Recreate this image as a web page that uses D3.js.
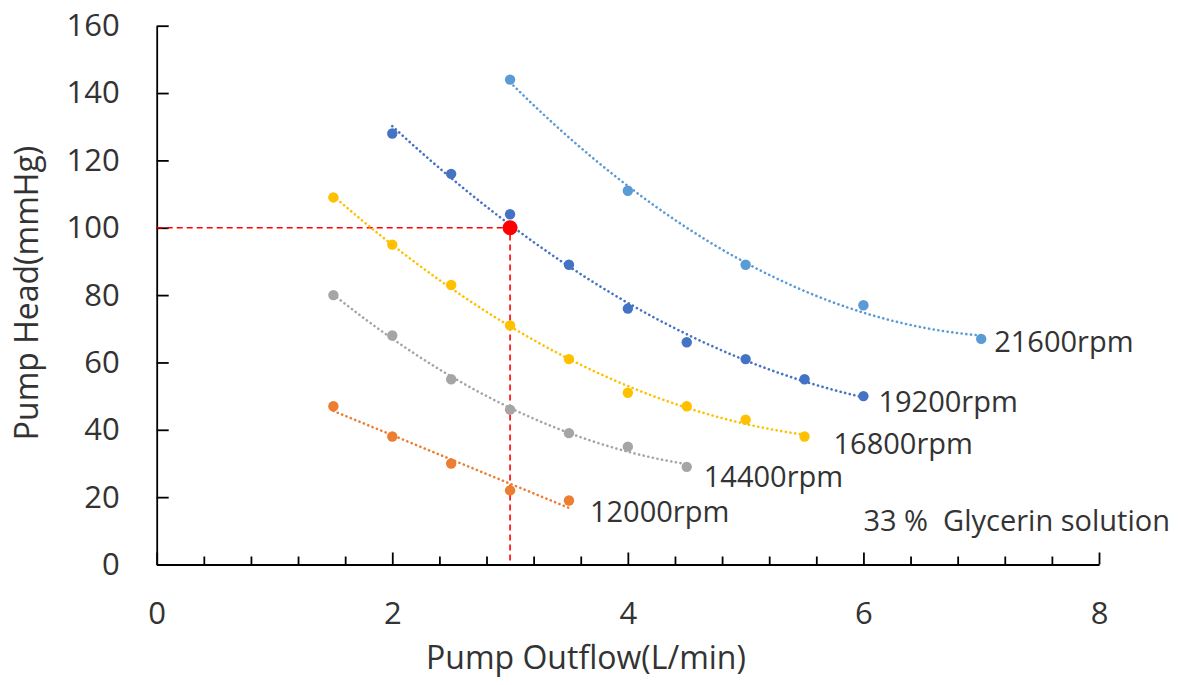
<!DOCTYPE html>
<html lang="en">
<head>
  <meta charset="UTF-8">
  <title>Pump Head vs Pump Outflow</title>
  <script src="https://cdn.jsdelivr.net/npm/d3@7"></script>
  <style>
    body { margin: 0; background: #fff; font-family: "Open Sans", sans-serif; }
    .axis text { font-size: 31px; fill: #333; font-family: "Open Sans", sans-serif; }
    .axis path, .axis line { stroke: #000; stroke-width: 1.8px; }
    .axis-label { font-size: 32px; fill: #333; text-anchor: middle; }
    .series-label { font-size: 29px; fill: #333; }
    .note { font-size: 29px; fill: #333; white-space: pre; }
  </style>
</head>
<body>
  <script>
    // values
    const flow12000 = [1.5, 2, 2.5, 3, 3.5];
    const head12000 = [47, 38, 30, 22, 19];
    const flow14400 = [1.5, 2, 2.5, 3, 3.5, 4, 4.5];
    const head14400 = [80, 68, 55, 46, 39, 35, 29];
    const flow16800 = [1.5, 2, 2.5, 3, 3.5, 4, 4.5, 5, 5.5];
    const head16800 = [109, 95, 83, 71, 61, 51, 47, 43, 38];
    const flow19200 = [2, 2.5, 3, 3.5, 4, 4.5, 5, 5.5, 6];
    const head19200 = [128, 116, 104, 89, 76, 66, 61, 55, 50];
    const flow21600 = [3, 4, 5, 6, 7];
    const head21600 = [144, 111, 89, 77, 67];

    const speedLabels = ["12000rpm", "14400rpm", "16800rpm", "19200rpm", "21600rpm"];
    const trendOrder = [1, 2, 2, 2, 2];
    const operatingPoint = {flow: 3, head: 100};
    const xTicks = [0, 2, 4, 6, 8];
    const yTicks = [0, 20, 40, 60, 80, 100, 120, 140, 160];
    const noteText = "33 %  Glycerin solution";

    const colors = ["#ED7D31", "#A5A5A5", "#FFC000", "#4472C4", "#5B9BD5"];
    // pixel offsets of each end label from the series' last point
    const labelOffsets = [[21, 21], [17, 20], [29, 17], [15, 16], [13, 13]];

    const series = [
      {flow: flow12000, head: head12000},
      {flow: flow14400, head: head14400},
      {flow: flow16800, head: head16800},
      {flow: flow19200, head: head19200},
      {flow: flow21600, head: head21600}
    ].map((s, i) => ({
      name: speedLabels[i],
      color: colors[i],
      order: trendOrder[i],
      offset: labelOffsets[i],
      points: s.flow.map((f, j) => ({flow: f, head: s.head[j]}))
    }));

    const W = 1181, H = 685;
    const margin = {top: 25.7, right: 82, bottom: 120.5, left: 156.7};
    const width = W - margin.left - margin.right,
          height = H - margin.top - margin.bottom;

    const svg = d3.select("body").append("svg")
      .attr("width", W)
      .attr("height", H)
      .append("g")
      .attr("transform", `translate(${margin.left},${margin.top})`);

    const x = d3.scaleLinear().domain([0, 8]).range([0, width]);
    const y = d3.scaleLinear().domain([0, 160]).range([height, 0]);

    // least-squares polynomial trendline (order 1 or 2), like the spreadsheet one
    function polyFit(pts, order) {
      const n = order + 1;
      const A = d3.range(n).map(r => d3.range(n + 1).map(c => 0));
      pts.forEach(p => {
        for (let r = 0; r < n; r++) {
          for (let c = 0; c < n; c++) A[r][c] += Math.pow(p.flow, r + c);
          A[r][n] += p.head * Math.pow(p.flow, r);
        }
      });
      for (let c = 0; c < n; c++) {
        for (let r = c + 1; r < n; r++) {
          const f = A[r][c] / A[c][c];
          for (let k = c; k <= n; k++) A[r][k] -= f * A[c][k];
        }
      }
      const b = new Array(n).fill(0);
      for (let r = n - 1; r >= 0; r--) {
        let v = A[r][n];
        for (let k = r + 1; k < n; k++) v -= A[r][k] * b[k];
        b[r] = v / A[r][r];
      }
      return f => b.reduce((acc, coef, k) => acc + coef * Math.pow(f, k), 0);
    }

    // axes
    svg.append("g")
      .attr("class", "axis")
      .call(d3.axisLeft(y).tickValues(yTicks).tickSizeInner(-12).tickSizeOuter(0).tickPadding(37));

    svg.append("g")
      .attr("class", "axis")
      .attr("transform", `translate(0,${height})`)
      .call(d3.axisBottom(x).tickValues(xTicks).tickSizeInner(-12).tickSizeOuter(0).tickPadding(37));

    const minor = d3.range(0, 8.001, 0.4).filter(v => Math.abs(v / 2 - Math.round(v / 2)) > 1e-6);
    svg.append("g")
      .attr("class", "axis minor")
      .attr("transform", `translate(0,${height})`)
      .call(d3.axisBottom(x).tickValues(minor).tickSizeInner(-8).tickSizeOuter(0).tickFormat(""))
      .call(g => g.select(".domain").remove());

    // operating point guide lines
    svg.append("path")
      .attr("d", d3.line()([[x(0), y(operatingPoint.head)], [x(operatingPoint.flow), y(operatingPoint.head)], [x(operatingPoint.flow), y(0)]]))
      .attr("fill", "none")
      .attr("stroke", "#FF0000")
      .attr("stroke-width", 1.6)
      .attr("stroke-dasharray", "6,4");

    // trendlines
    const line = d3.line().x(d => x(d[0])).y(d => y(d[1]));
    series.forEach(s => {
      const fit = polyFit(s.points, s.order);
      const x0 = d3.min(s.points, d => d.flow), x1 = d3.max(s.points, d => d.flow);
      const samples = d3.range(0, 61).map(i => {
        const f = x0 + (x1 - x0) * i / 60;
        return [f, fit(f)];
      });
      svg.append("path")
        .attr("d", line(samples))
        .attr("fill", "none")
        .attr("stroke", s.color)
        .attr("stroke-width", 2.6)
        .attr("stroke-linecap", "round")
        .attr("stroke-dasharray", "0.1,4.6");
    });

    // markers
    series.forEach(s => {
      svg.append("g")
        .selectAll("circle")
        .data(s.points)
        .enter().append("circle")
        .attr("cx", d => x(d.flow))
        .attr("cy", d => y(d.head))
        .attr("r", 5.2)
        .attr("fill", s.color);

      const last = s.points[s.points.length - 1];
      svg.append("text")
        .attr("class", "series-label")
        .attr("x", x(last.flow) + s.offset[0])
        .attr("y", y(last.head) + s.offset[1])
        .text(s.name);
    });

    svg.append("circle")
      .attr("cx", x(operatingPoint.flow))
      .attr("cy", y(operatingPoint.head))
      .attr("r", 7.5)
      .attr("fill", "#FF0000");

    svg.append("text")
      .attr("class", "note")
      .attr("x", width + 71)
      .attr("y", y(0) - 33)
      .style("text-anchor", "end")
      .text(noteText);

    // axis titles
    svg.append("text")
      .attr("class", "axis-label")
      .attr("x", 586 - margin.left)
      .attr("y", height + 105)
      .text("Pump Outflow(L/min)");

    svg.append("text")
      .attr("class", "axis-label")
      .attr("transform", "rotate(-90)")
      .attr("x", -(293 - margin.top))
      .attr("y", -margin.left + 38)
      .text("Pump Head(mmHg)");
  </script>
</body>
</html>
